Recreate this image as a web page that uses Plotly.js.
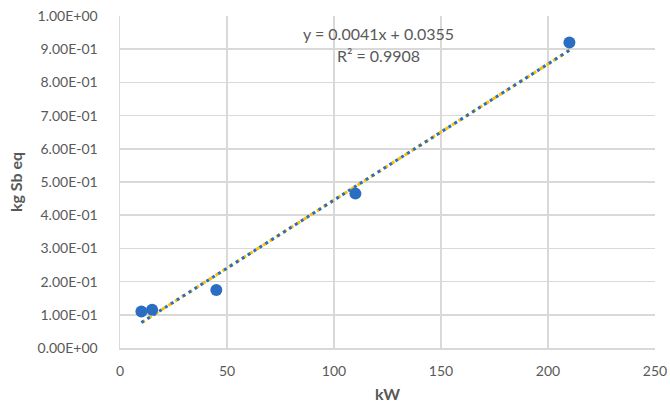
<!DOCTYPE html>
<html>
<head>
<meta charset="utf-8">
<script src="https://cdn.plot.ly/plotly-3.0.1.min.js"></script>
<style>html,body{margin:0;padding:0;background:#fff}#chart{width:670px;height:414px}</style>
</head>
<body>
<div id="chart"></div>
<script>
// Data
const powerKW = [10, 15, 45, 110, 210];
const kgSbEq = [0.11, 0.115, 0.175, 0.465, 0.92];

// Trendline coefficients as printed on the chart
const trendSlope = 0.0041;
const trendIntercept = 0.0355;
const trendLabel = ["y = 0.0041x + 0.0355", "R² = 0.9908"];

// Axis ticks
const xTickVals = [0, 50, 100, 150, 200, 250];
const yTickVals = [0, 0.1, 0.2, 0.3, 0.4, 0.5, 0.6, 0.7, 0.8, 0.9, 1.0];
const yTickText = ["0.00E+00","1.00E-01","2.00E-01","3.00E-01","4.00E-01","5.00E-01","6.00E-01","7.00E-01","8.00E-01","9.00E-01","1.00E+00"];

const xMin = Math.min(...powerKW), xMax = Math.max(...powerKW);
const trendX = [xMin, xMax];
const trendY = trendX.map(x => trendSlope * x + trendIntercept);

const gray = '#595959';
const grid = '#d9d9d9';
const font = 'Lato, "Open Sans", sans-serif';

const traces = [
  {x: trendX, y: trendY, mode: 'lines', type: 'scatter', hoverinfo: 'skip',
   line: {color: '#FFC000', width: 3, dash: '4px,4px'}},
  {x: trendX, y: trendY, mode: 'lines', type: 'scatter', hoverinfo: 'skip',
   line: {color: '#2B6DC0', width: 3, dash: '3px,4px'}},
  {x: powerKW, y: kgSbEq, mode: 'markers', type: 'scatter',
   marker: {color: '#2B6DC0', size: 12}}
];

const layout = {
  width: 670, height: 414,
  margin: {l: 120, r: 15, t: 16, b: 66},
  paper_bgcolor: '#fff', plot_bgcolor: '#fff',
  showlegend: false,
  font: {family: font, color: gray, size: 13},
  xaxis: {
    range: [0, 250], tickvals: xTickVals, ticktext: xTickVals.map(String),
    showgrid: true, gridcolor: grid, gridwidth: 1.5,
    zeroline: false, showline: true, linecolor: grid, linewidth: 1.5,
    ticks: '', ticklabelstandoff: 10,
    tickfont: {family: font, size: 14, color: gray},
    title: {text: 'kW', font: {family: font, size: 16, color: gray, weight: 'bold'}, standoff: 10}
  },
  yaxis: {
    range: [0, 1], tickvals: yTickVals, ticktext: yTickText,
    showgrid: true, gridcolor: grid, gridwidth: 1.5,
    zeroline: false, showline: true, linecolor: grid, linewidth: 1.5,
    ticks: '', ticklabelstandoff: 18,
    tickfont: {family: font, size: 14, color: gray},
    title: {text: 'kg Sb eq', font: {family: font, size: 16, color: gray, weight: 'bold'}, standoff: 11}
  },
  annotations: [
    {x: 121, y: 0.948, xref: 'x', yref: 'y', text: trendLabel[0], showarrow: false, font: {family: font, size: 16, color: gray}},
    {x: 121, y: 0.882, xref: 'x', yref: 'y', text: trendLabel[1], showarrow: false, font: {family: font, size: 16, color: gray}}
  ]
};

Plotly.newPlot('chart', traces, layout, {displayModeBar: false, staticPlot: true});
</script>
</body>
</html>
